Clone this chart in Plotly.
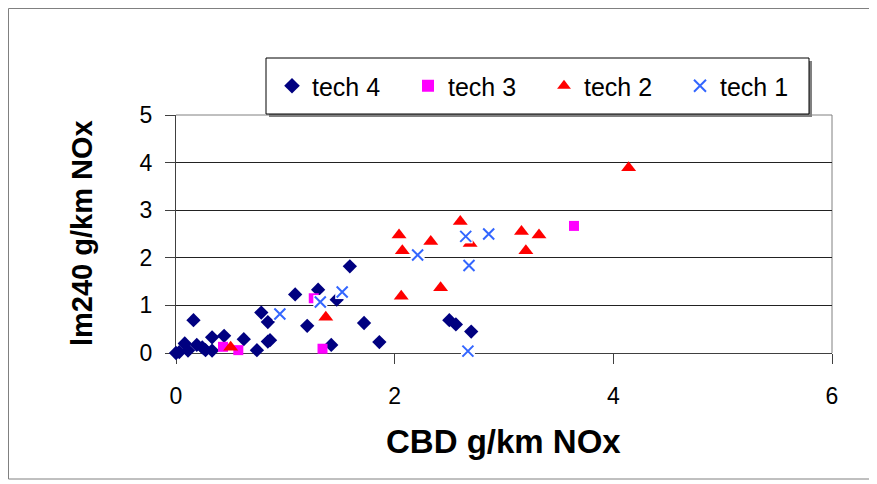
import plotly.graph_objects as go

# values
t4_x = [0.00, 0.03, 0.08, 0.11, 0.16, 0.19, 0.24, 0.27, 0.33, 0.33, 0.44, 0.62, 0.74, 0.78,
        0.84, 0.84, 0.86, 1.09, 1.20, 1.30, 1.42, 1.47, 1.59, 1.72, 1.86, 2.50, 2.56, 2.70]
t4_y = [0.00, 0.02, 0.20, 0.05, 0.69, 0.17, 0.12, 0.06, 0.33, 0.05, 0.36, 0.29, 0.06, 0.85,
        0.65, 0.24, 0.27, 1.23, 0.57, 1.33, 0.17, 1.12, 1.82, 0.63, 0.23, 0.69, 0.60, 0.45]
t3_x = [0.43, 0.57, 1.26, 1.34, 3.64]
t3_y = [0.13, 0.06, 1.15, 0.09, 2.67]
t2_x = [0.50, 1.37, 2.04, 2.07, 2.06, 2.33, 2.42, 2.60, 2.69, 3.16, 3.20, 3.32, 4.14]
t2_y = [0.12, 0.75, 2.48, 2.15, 1.19, 2.34, 1.37, 2.76, 2.30, 2.55, 2.15, 2.48, 3.89]
t1_x = [0.95, 1.32, 1.52, 2.21, 2.65, 2.86, 2.68, 2.67]
t1_y = [0.82, 1.07, 1.28, 2.06, 2.45, 2.50, 1.84, 0.04]

FONT = "Liberation Sans, Arial, sans-serif"

# the page puts the figure 8px in from the corner, so work in page px minus 8
OFF = 8
W, H = 877 - OFF, 484 - OFF
L, R, T, B = 176 - OFF, 832 - OFF, 115 - OFF, 353 - OFF


def px_x(p):
    # page px -> paper x
    return (p - OFF - L) / (R - L)


def px_y(p):
    # page px -> paper y
    return (B - (p - OFF)) / (B - T)


fig = go.Figure()
fig.add_trace(go.Scatter(x=t4_x, y=t4_y, mode="markers", name="tech 4", cliponaxis=False,
                         marker=dict(symbol="diamond", size=11, color="#000080")))
fig.add_trace(go.Scatter(x=t3_x, y=t3_y, mode="markers", name="tech 3", cliponaxis=False,
                         marker=dict(symbol="square", size=10, color="#FF00FF")))
fig.add_trace(go.Scatter(x=t2_x, y=t2_y, mode="markers", name="tech 2", cliponaxis=False,
                         marker=dict(symbol="triangle-up", size=13, color="#FF0000")))
# white background box behind the x markers (Excel style)
fig.add_trace(go.Scatter(x=t1_x, y=t1_y, mode="markers", showlegend=False, hoverinfo="skip",
                         cliponaxis=False,
                         marker=dict(symbol="square", size=14, color="white")))
fig.add_trace(go.Scatter(x=t1_x, y=t1_y, mode="markers", name="tech 1", cliponaxis=False,
                         marker=dict(symbol="x-thin-open", size=11, color="#3366FF",
                                     line=dict(width=2, color="#3366FF"))))

shapes = [
    # outer chart border
    dict(type="rect", xref="paper", yref="paper", x0=px_x(8.5), x1=px_x(884),
         y0=px_y(479), y1=px_y(8.5), line=dict(color="#808080", width=1), layer="below"),
    # legend shadow + box
    dict(type="rect", xref="paper", yref="paper", x0=px_x(269), x1=px_x(812),
         y0=px_y(117), y1=px_y(61), line=dict(width=0), fillcolor="#808080"),
    dict(type="rect", xref="paper", yref="paper", x0=px_x(266), x1=px_x(809),
         y0=px_y(114), y1=px_y(58), line=dict(color="black", width=1), fillcolor="white"),
    # gray frame on top and right of the plot area
    dict(type="line", xref="paper", yref="paper", x0=0, x1=1, y0=1, y1=1,
         line=dict(color="#808080", width=1), layer="below"),
    dict(type="line", xref="paper", yref="paper", x0=1, x1=1, y0=0, y1=1,
         line=dict(color="#808080", width=1), layer="below"),
]

fig.update_layout(
    width=W, height=H,
    margin=dict(l=L, r=W - R, t=T, b=H - B),
    paper_bgcolor="white", plot_bgcolor="white",
    font=dict(family=FONT, size=22, color="black"),
    shapes=shapes,
    showlegend=True,
    legend=dict(orientation="h", x=px_x(272), xanchor="left", y=px_y(86), yanchor="middle",
                bgcolor="rgba(0,0,0,0)", borderwidth=0, entrywidth=91,
                font=dict(family=FONT, size=25, color="black"),
                itemsizing="constant"),
    annotations=[
        dict(text="<b>CBD g/km NOx</b>", xref="paper", yref="paper", x=px_x(503), y=px_y(441),
             xanchor="center", yanchor="middle",
             showarrow=False, font=dict(family=FONT, size=33, color="black")),
        dict(text="<b>lm240 g/km NOx</b>", xref="paper", yref="paper", x=px_x(82), y=px_y(233),
             xanchor="center", yanchor="middle",
             showarrow=False, textangle=-90, font=dict(family=FONT, size=29, color="black")),
    ],
)

fig.update_xaxes(range=[0, 6], dtick=2, showgrid=False, zeroline=False,
                 showline=True, linecolor="#404040", linewidth=1,
                 ticks="outside", ticklen=10, tickcolor="#404040", ticklabelstandoff=12,
                 tickfont=dict(family=FONT, size=23, color="black"), layer="below traces")
fig.update_yaxes(range=[0, 5], dtick=1, showgrid=True, gridcolor="#222222", gridwidth=1,
                 zeroline=False, showline=True, linecolor="#404040", linewidth=1,
                 ticks="outside", ticklen=10, tickcolor="#404040", ticklabelstandoff=8,
                 tickfont=dict(family=FONT, size=23, color="black"), layer="below traces")

fig.write_html("out.html")
